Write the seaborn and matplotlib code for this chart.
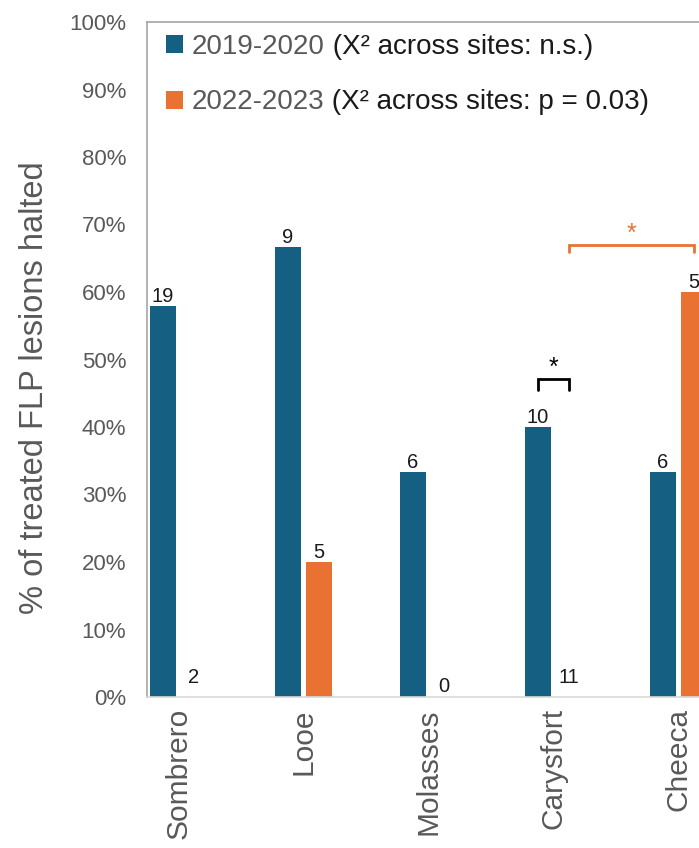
import matplotlib
matplotlib.use("Agg")
import matplotlib.pyplot as plt
import seaborn as sns
import pandas as pd
from matplotlib.patches import Patch

# ---- data ----
sites = ["Sombrero", "Looe", "Molasses", "Carysfort", "Cheeca"]
periods = ["2019-2020", "2022-2023"]
pct_2019 = [57.9, 66.7, 33.3, 40.0, 33.3]
pct_2022 = [0.0, 20.0, 0.0, 0.0, 60.0]
n_2019 = [19, 9, 6, 10, 6]
n_2022 = [2, 5, 0, 11, 5]
legend_suffix = [" (X\u00b2 across sites: n.s.)", " (X\u00b2 across sites: p = 0.03)"]
y_ticks = [0, 10, 20, 30, 40, 50, 60, 70, 80, 90, 100]
ylabel = "% of treated FLP lesions halted"

colors = {"2019-2020": "#156082", "2022-2023": "#E97132"}

df = pd.DataFrame({
    "site": sites * 2,
    "period": [periods[0]] * len(sites) + [periods[1]] * len(sites),
    "pct": pct_2019 + pct_2022,
})

sns.set_theme(style="white")
plt.rcParams["font.family"] = ["Liberation Sans", "DejaVu Sans"]

W, H = 699, 848
fig = plt.figure(figsize=(W / 100, H / 100), dpi=100)
ax = fig.add_axes([147 / W, 151 / H, 563 / W, 675 / H])

sns.barplot(data=df, x="site", y="pct", hue="period", order=sites,
            hue_order=periods, palette=colors, width=0.496, gap=0.19,
            saturation=1, legend=False, ax=ax, edgecolor="none")

ax.set_xlim(-0.252, 4.252)
ax.set_ylim(0, 100)
ax.set_yticks(y_ticks)
ax.set_yticklabels([f"{t}%" for t in y_ticks])
ax.tick_params(axis="y", length=0, pad=15, labelsize=16, labelcolor="#595959")
ax.tick_params(axis="x", length=0, pad=8, labelsize=21.5, labelcolor="#595959",
               labelrotation=90)
ax.set_xlabel("")
ax.set_ylabel(ylabel, fontsize=23.5, color="#595959")
ax.yaxis.set_label_coords(-0.173, 0.458)

for s in ["left", "top", "right"]:
    ax.spines[s].set_color("#A6A6A6")
    ax.spines[s].set_linewidth(1.2)
ax.spines["bottom"].set_color("#D9D9D9")
ax.spines["bottom"].set_linewidth(1.2)

# ---- value labels ----
zero_pad = {"Molasses": 3.5}
for cont, ns in zip(ax.containers, [n_2019, n_2022]):
    for site, p, n in zip(sites, cont.patches, ns):
        x = p.get_x() + p.get_width() / 2
        h = p.get_height()
        pad = 3 if h > 0 else zero_pad.get(site, 10)
        ax.annotate(str(n), (x, h), xytext=(0, pad), textcoords="offset points",
                    ha="center", va="baseline", fontsize=14.5, color="#1a1a1a")

# ---- significance brackets ----
blue = ax.containers[0].patches
orng = ax.containers[1].patches
cx = lambda p: p.get_x() + p.get_width() / 2

x1, x2 = cx(blue[3]), cx(orng[3])
ax.plot([x1, x1, x2, x2], [45.5, 47.1, 47.1, 45.5], color="black", lw=2,
        solid_joinstyle="miter")
ax.text((x1 + x2) / 2, 47.0, "*", ha="center", va="bottom", fontsize=18,
        color="black")

x1, x2 = cx(orng[3]), cx(orng[4])
ax.plot([x1, x1, x2, x2], [65.9, 67.0, 67.0, 65.9], color="#E97132", lw=2,
        solid_joinstyle="miter")
ax.text((x1 + x2) / 2, 66.9, "*", ha="center", va="bottom", fontsize=18,
        color="#E97132")

# ---- legend ----
handles = [Patch(facecolor=colors[p], edgecolor="none") for p in periods]
leg = ax.legend(handles, periods, loc="upper left", bbox_to_anchor=(0.034, 0.982),
                frameon=False, fontsize=20, handlelength=0.62, handleheight=0.62,
                handletextpad=0.3, labelspacing=1.05, borderpad=0, borderaxespad=0)
for t in leg.get_texts():
    t.set_color("#595959")

fig.canvas.draw()
for t, suf in zip(leg.get_texts(), legend_suffix):
    bb = t.get_window_extent()
    ax.annotate(suf, xy=(bb.x1, bb.y0), xycoords="figure pixels", ha="left",
                va="bottom", fontsize=20, color="#1a1a1a")

fig.savefig("out.png", dpi=100)
